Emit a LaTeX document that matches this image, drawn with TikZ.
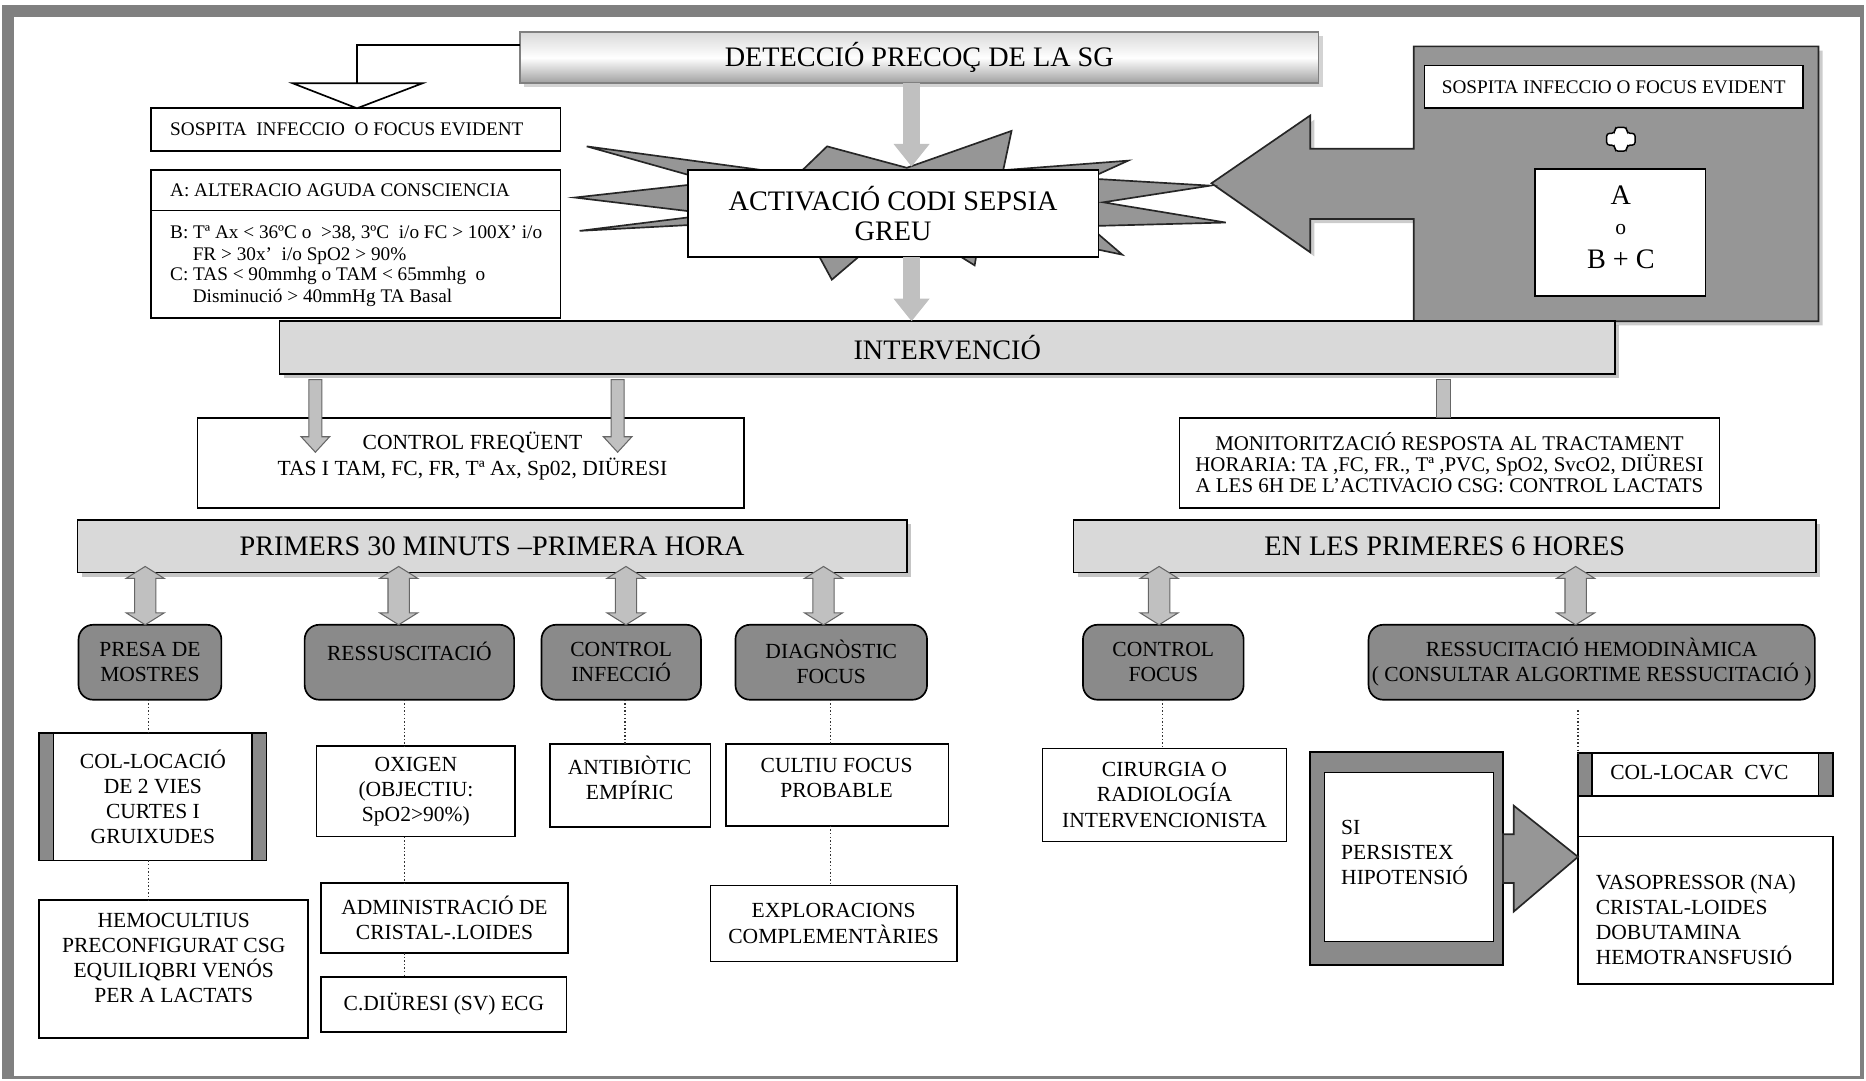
\documentclass[tikz,border=0pt]{standalone}
\usepackage{fontspec}
\setmainfont{Liberation Serif}
\usetikzlibrary{calc,shadows,arrows.meta}
\definecolor{framegray}{RGB}{128,128,128}
\definecolor{barfill}{RGB}{217,217,217}
\definecolor{rfill}{RGB}{138,138,138}
\definecolor{burstfill}{RGB}{150,150,150}
\definecolor{arrfill}{RGB}{192,192,192}
\newcommand\fhdr{\fontsize{13.5}{14.5}\selectfont}
\newcommand\fsm{\fontsize{10.3}{12}\selectfont}
\newcommand\fxs{\fontsize{9.2}{10.3}\selectfont}
\newcommand\rbx[7]{%
  \pgfmathsetmacro\rbxw{(#4-#2)*0.02}%
  \pgfmathsetmacro\rbxh{(#5-#3)*0.02}%
  \node[#6,minimum width=\rbxw cm,minimum height=\rbxh cm] (#1) at ({(#2+#4)/2},{(#3+#5)/2}) {#7};}
\newcommand\dblarrow[2]{%
  \filldraw[garrow] let \p1=(#1), \p2=(#2) in
  (\x1,\y1) -- (\x1+9.1pt,\y1-5.7pt) -- (\x1+5.1pt,\y1-5.7pt) -- (\x1+5.1pt,\y2+5.7pt) -- (\x1+9.1pt,\y2+5.7pt) -- (\x1,\y2) -- (\x1-9.1pt,\y2+5.7pt) -- (\x1-5.1pt,\y2+5.7pt) -- (\x1-5.1pt,\y1-5.7pt) -- (\x1-9.1pt,\y1-5.7pt) -- cycle;}
\newcommand\dnarrow[2]{%
  \filldraw[garrow] let \p1=(#1), \p2=(#2) in
  (\x1-3.1pt,\y1) -- (\x1+3.1pt,\y1) -- (\x1+3.1pt,\y2+7.4pt) -- (\x1+6.8pt,\y2+7.4pt) -- (\x1,\y2) -- (\x1-6.8pt,\y2+7.4pt) -- (\x1-3.1pt,\y2+7.4pt) -- cycle;}
\begin{document}
\begin{tikzpicture}[x=0.02cm,y=-0.02cm,
 every node/.style={inner sep=0pt,outer sep=0pt},
 box/.style={draw=black,line width=0.8pt,fill=white},
 barbox/.style={draw=black,line width=0.8pt,fill=barfill,font=\fhdr,drop shadow={shadow xshift=2pt,shadow yshift=-2pt,opacity=0.5,fill=black!45}},
 rbox/.style={draw=black,line width=0.8pt,fill=rfill,rounded corners=7pt,font=\fsm,align=center},
 txt/.style={font=\fsm,align=center},
 garrow/.style={draw=black!60,line width=0.5pt,fill=arrfill},
 dotline/.style={densely dotted,line width=0.7pt,black!80},
 sidebar/.style={draw=black,line width=0.8pt,fill=rfill},
 darkshape/.style={draw=black!85,line width=0.8pt,fill=burstfill},
 toparrow/.style={draw=arrfill,line width=0.28cm,-{Triangle[width=0.58cm,length=0.38cm]}},
]
\useasboundingbox (0,0) rectangle (1568,908);
% frame
\fill[framegray] (2,4) rectangle (1566,14);
\fill[framegray] (2,4) rectangle (12,907);
\fill[framegray] (1563,4) rectangle (1566,907);
\fill[framegray] (2,904) rectangle (1566,907);

% big arrow on the right
\filldraw[darkshape,drop shadow={shadow xshift=2pt,shadow yshift=-2pt,opacity=0.4}] (1018,154) -- (1101,97) -- (1101,125) -- (1188,125) -- (1188,39) -- (1528,39) -- (1528,270) -- (1188,270) -- (1188,184) -- (1101,184) -- (1101,212) -- cycle;
\rbx{sosp2}{1197}{55}{1515}{91}{box,font=\fxs}{SOSPITA INFECCIO O FOCUS EVIDENT}
\filldraw[fill=white,draw=black,line width=0.7pt,rounded corners=1.5pt] (1357,107) -- (1367,107) -- (1367,112) -- (1374,112) -- (1374,122) -- (1367,122) -- (1367,127) -- (1357,127) -- (1357,122) -- (1350,122) -- (1350,112) -- (1357,112) -- cycle;
\rbx{abc2}{1290}{142}{1433}{249}{box}{}
\node[font=\fhdr,anchor=base] (ta) at (1362,172) {A};
\node[font=\fsm,anchor=base] (to) at (1362,197) {o};
\node[font=\fhdr,anchor=base] (tbc) at (1362,226) {B + C};

% detection
\rbx{det}{437}{27}{1108}{70}{draw=gray,line width=0.8pt,top color=gray!30,bottom color=gray!75,middle color=white,drop shadow={shadow xshift=2pt,shadow yshift=-2pt,opacity=0.35},font=\fhdr}{DETECCIÓ PRECOÇ DE LA SG}

% left criteria
\rbx{sosp}{127}{91}{471}{127}{box}{}
\node[font=\fxs,anchor=base west] (sosptxt) at (143,113.5) {SOSPITA\ \ INFECCIO\ \ O FOCUS EVIDENT};
\rbx{abc}{127}{143}{471}{267}{box}{}
\draw[line width=0.8pt] (abc.west |- 0,177) -- (abc.east |- 0,177);
\node[font=\fxs,anchor=base west] (atxt) at (143,165.5) {A: ALTERACIO AGUDA CONSCIENCIA};
\node[font=\fxs,anchor=base west] (b1) at (143,200) {B: Tª Ax < 36ºC o\ \ >38, 3ºC\ \ i/o FC > 100X' i/o};
\node[font=\fxs,anchor=base west] (b2) at (162,218.5) {FR > 30x'\ \ i/o SpO2 > 90\%};
\node[font=\fxs,anchor=base west] (c1) at (143,236) {C: TAS < 90mmhg o TAM < 65mmhg\ \ o};
\node[font=\fxs,anchor=base west] (c2) at (162,254) {Disminució > 40mmHg TA Basal};
\coordinate (tri) at (300,70);
\draw[line width=0.8pt] (det.west |- 0,38) -| (tri);
\filldraw[fill=white,draw=black,line width=0.8pt] (246,70) -- (355,70) -- (sosp.north -| tri) -- cycle;

% burst
\filldraw[darkshape] (493,123) -- (700,151) -- (666,151) -- (695,123) -- (762,141) -- (850,110) -- (843,143) -- (948,135) -- (915,150) -- (1017,156) -- (927,170) -- (1030,187) -- (915,190) -- (943,214) -- (900,205) -- (822,205) -- (819,223) -- (790,205) -- (740,200) -- (699,235) -- (680,200) -- (600,188) -- (487,194) -- (600,180) -- (483,166) -- (600,153) -- cycle;
\rbx{act}{578}{143}{923}{216}{box,font=\fhdr,align=center}{ACTIVACIÓ CODI SEPSIA\\GREU}

% intervention
\rbx{interv}{235}{270}{1357}{314}{barbox}{INTERVENCIÓ}
\draw[toparrow] (det.south -| 766,0) -- ($(act.north -| 766,0)+(0,-3)$);
\draw[toparrow] (act.south -| 766,0) -- (interv.north -| 766,0);

% control / monitoring
\rbx{ctrl}{166}{351}{625}{427}{box}{}
\node[font=\fsm,align=center,text depth=0pt] (ctrltxt) at (397,381) {CONTROL FREQÜENT\\[0.5pt]TAS I TAM, FC, FR, Tª Ax, Sp02, DIÜRESI};
\dnarrow{$(interv.south -| 265,0)+(0,5)$}{$(ctrl.north -| 265,0)+(0,29)$}
\dnarrow{$(interv.south -| 519,0)+(0,5)$}{$(ctrl.north -| 519,0)+(0,29)$}
\rbx{monit}{991}{351}{1445}{427}{box,font=\fontsize{10}{10}\selectfont,align=center}{MONITORITZACIÓ RESPOSTA AL TRACTAMENT\\HORARIA: TA ,FC, FR., Tª ,PVC, SpO2, SvcO2, DIÜRESI\\A LES 6H DE L'ACTIVACIO CSG: CONTROL LACTATS}
\filldraw[garrow] ($(interv.south -| 1207,0)+(0,5)$) rectangle (monit.north -| 1219,0);

% phase bars
\rbx{prim}{65}{437}{762}{481}{barbox}{PRIMERS 30 MINUTS –PRIMERA HORA}
\rbx{sis}{902}{437}{1526}{481}{barbox}{EN LES PRIMERES 6 HORES}

% rounded boxes
\rbx{presa}{66}{525}{186}{588}{rbox}{PRESA DE\\MOSTRES}
\rbx{ressus}{256}{525}{432}{588}{rbox}{}
\node[txt] (ressustxt) at (344,547) {RESSUSCITACIÓ};
\rbx{ctrlinf}{455}{525}{589}{588}{rbox}{CONTROL\\INFECCIÓ}
\rbx{diag}{618}{525}{779}{588}{rbox}{DIAGNÒSTIC\\FOCUS}
\rbx{ctrlfoc}{910}{525}{1045}{588}{rbox}{CONTROL\\FOCUS}
\rbx{hemo}{1150}{525}{1525}{588}{rbox}{RESSUCITACIÓ HEMODINÀMICA\\( CONSULTAR ALGORTIME RESSUCITACIÓ )}

\dblarrow{$(prim.south -| 122,0)+(0,-5)$}{presa.north -| 122,0}
\dblarrow{$(prim.south -| 335,0)+(0,-5)$}{ressus.north -| 335,0}
\dblarrow{$(prim.south -| 526,0)+(0,-5)$}{ctrlinf.north -| 526,0}
\dblarrow{$(prim.south -| 692,0)+(0,-5)$}{diag.north -| 692,0}
\dblarrow{$(sis.south -| 974,0)+(0,-5)$}{ctrlfoc.north -| 974,0}
\dblarrow{$(sis.south -| 1324,0)+(0,-5)$}{hemo.north -| 1324,0}

% bottom boxes, left group
\rbx{colloc}{33}{616}{224}{723}{box,font=\fsm,align=center}{COL-LOCACIÓ\\DE 2 VIES\\CURTES I\\GRUIXUDES}
\filldraw[sidebar] (colloc.north west) rectangle ($(colloc.south west)+(12,0)$);
\filldraw[sidebar] ($(colloc.north east)+(-12,0)$) rectangle (colloc.south east);
\rbx{hemoc}{33}{756}{259}{872}{box}{}
\node[txt] (hemoctxt) at (146,805) {HEMOCULTIUS\\PRECONFIGURAT CSG\\EQUILIQBRI VENÓS\\PER A LACTATS};
\rbx{oxig}{266}{627}{433}{703}{box,font=\fsm,align=center}{OXIGEN\\(OBJECTIU:\\SpO2>90\%)};
\rbx{admin}{270}{742}{477}{801}{box,font=\fsm,align=center}{ADMINISTRACIÓ DE\\CRISTAL-.LOIDES}
\rbx{diur}{270}{821}{476}{867}{box,font=\fsm}{C.DIÜRESI (SV) ECG}
\rbx{anti}{462}{625}{597}{695}{box}{}
\node[txt] (antitxt) at (529,654) {ANTIBIÒTIC\\EMPÍRIC};
\rbx{cult}{610}{625}{797}{694}{box}{}
\node[txt] (culttxt) at (703,654) {CULTIU FOCUS\\PROBABLE};
\rbx{explo}{597}{744}{804}{808}{box,font=\fsm,align=center}{EXPLORACIONS\\COMPLEMENTÀRIES}

\draw[dotline] (presa.south -| 125,0) -- (colloc.north -| 125,0);
\draw[dotline] (colloc.south -| 125,0) -- (hemoc.north -| 125,0);
\draw[dotline] (ressus.south -| 340,0) -- (oxig.north -| 340,0);
\draw[dotline] (oxig.south -| 340,0) -- (admin.north -| 340,0);
\draw[dotline] (admin.south -| 340,0) -- (diur.north -| 340,0);
\draw[dotline] (ctrlinf.south -| 525,0) -- (anti.north -| 525,0);
\draw[dotline] (diag.south -| 698,0) -- (cult.north -| 698,0);
\draw[dotline] (cult.south -| 698,0) -- (explo.north -| 698,0);

% bottom boxes, right group
\rbx{cirur}{876}{629}{1081}{707}{box,font=\fsm,align=center}{CIRURGIA O\\RADIOLOGÍA\\INTERVENCIONISTA}
\draw[dotline] (ctrlfoc.south -| 977,0) -- (cirur.north -| 977,0);
\rbx{siout}{1101}{632}{1263}{811}{sidebar}{}
\rbx{siin}{1113}{649}{1255}{791}{box}{}
\node[font=\fsm,align=left,anchor=west] (sitxt) at (1127,716) {SI\\PERSISTEX\\HIPOTENSIÓ};
\rbx{cvc}{1326}{633}{1540}{669}{box}{}
\filldraw[sidebar] (cvc.north west) rectangle ($(cvc.south west)+(12,0)$);
\filldraw[sidebar] ($(cvc.north east)+(-12,0)$) rectangle (cvc.south east);
\node[font=\fsm] (cvctxt) at (1428,649) {COL-LOCAR\ \ CVC};
\rbx{vaso}{1326}{703}{1540}{827}{box}{}
\node[font=\fsm,align=left,anchor=west] (vasotxt) at (1341,773) {VASOPRESSOR (NA)\\CRISTAL-LOIDES\\DOBUTAMINA\\HEMOTRANSFUSIÓ};
\draw[line width=0.8pt] (cvc.south west) -- (vaso.north west);
\draw[dotline] ($(hemo.south -| cvc.west)+(0,9)$) -- (cvc.north west);
\filldraw[darkshape] (siout.east |- 0,701) -- (1272,701) -- (1272,677) -- (vaso.west |- 0,720) -- (1272,766) -- (1272,742) -- (siout.east |- 0,742) -- cycle;
\end{tikzpicture}
\end{document}
